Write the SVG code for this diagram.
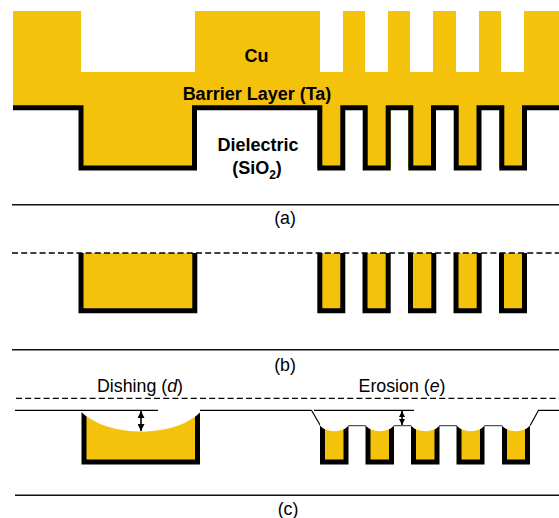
<svg xmlns="http://www.w3.org/2000/svg" width="559" height="518" viewBox="0 0 559 518">
<style>
.cu{fill:#f4c10b}
.wall{fill:none;stroke:#000;stroke-width:5;stroke-linejoin:miter}
.thin{fill:none;stroke:#000;stroke-width:1.2}
.shaft{fill:none;stroke:#000;stroke-width:1.6}
.grey{fill:none;stroke:#555;stroke-width:1.2}
.sep{fill:none;stroke:#111;stroke-width:1.4}
.dash{fill:none;stroke:#000;stroke-width:1.3;stroke-dasharray:6 3.2}
text{font-family:"Liberation Sans",Arial,sans-serif;fill:#000;text-anchor:middle}
.b{font-weight:700;font-size:18px}
.l{font-size:17.800px}
</style>
<defs>
<marker id="ah" viewBox="0 0 7 7" refX="7" refY="3.500" markerWidth="7" markerHeight="7" orient="auto-start-reverse" markerUnits="userSpaceOnUse"><path d="M0 0L7 3.500L0 7Z" fill="#000"/></marker>
<marker id="as" viewBox="0 0 6 6" refX="6" refY="3" markerWidth="6" markerHeight="6" orient="auto-start-reverse" markerUnits="userSpaceOnUse"><path d="M0 0L6 3L0 6Z" fill="#000"/></marker>
</defs>
<g id="panel-a">
<path class="cu" d="M13 11H81V72H195V11H320V72H343V11H365V72H388V11H410V72H433V11H456V72H479V11H501V72H524V11H559V108H527V168H499V108H481V168H454V108H436V168H408V108H391V168H363V108H345V168H317V108H197V168H79V108H13Z"/>
<path class="wall" d="M13 107.700H81V168H194.500V107.700H319.800V168H342.800V107.700H365.200V168H388.200V107.700H410.800V168H433.500V107.700H456.200V168H479V107.700H501.800V168H524.500V107.700H559"/>
<text class="b" x="256.500" y="62">Cu</text>
<text class="b" x="257" y="100">Barrier Layer (Ta)</text>
<text class="b" x="258" y="150.500">Dielectric</text>
<text class="b" x="257" y="174">(SiO<tspan font-size="12px" dy="5">2</tspan><tspan dy="-5">)</tspan></text>
<path class="sep" d="M12 204.700H559"/>
<text class="l" x="285" y="224">(a)</text>
</g>
<g id="panel-b">
<path class="cu" d="M81 253H195V310H81Z"/>
<path class="cu" d="M320 253H343V310H320ZM365 253H388V310H365ZM411 253H434V310H411ZM456 253H479V310H456ZM502 253H525V310H502Z"/>
<path class="wall" d="M81 253V310.800H194.800V253M319.800 253V310.800H342.800V253M365 253V310.800H388.200V253M410.500 253V310.800H433.800V253M456 253V310.800H479.200V253M501.500 253V310.800H524.500V253"/>
<path class="dash" d="M12 253H559"/>
<path class="sep" d="M12 349.700H559"/>
<text class="l" x="285" y="371">(b)</text>
</g>
<g id="panel-c">
<path class="dash" d="M16 398.300H559"/>
<text class="l" x="140" y="392">Dishing (<tspan font-style="italic">d</tspan>)</text>
<text class="l" x="402" y="392">Erosion (<tspan font-style="italic">e</tspan>)</text>
<g id="dishing">
<path d="M81.500 410H200V464.500H81.500Z"/>
<path class="cu" d="M86.500 415H195V459.500H86.500Z"/>
<path d="M80 409H201.500V411C188 425 165 431.500 141 431.500C117 431.500 95 425 80 411Z" fill="#fff"/>
<path class="thin" d="M15 410.300H158M200 410.300H311.500L320.500 425.700M530 425.700L538.500 410.300H559"/>
<path class="shaft" d="M141 411V431" marker-start="url(#ah)" marker-end="url(#ah)"/>
</g>
<g id="erosion">
<path class="grey" d="M348 425.700H366M393.500 425.700H411.500M439 425.700H457M484 425.700H502.500"/>
<path d="M320 425H348.500V464.500H320ZM365.500 425H394V464.500H365.500ZM411 425H439.500V464.500H411ZM456.500 425H484.500V464.500H456.500ZM502 425H530V464.500H502Z"/>
<path class="cu" d="M325 425H343.500V459.500H325ZM370.500 425H389V459.500H370.500ZM416 425H434.500V459.500H416ZM461.500 425H480V459.500H461.500ZM507 425H525V459.500H507Z"/>
<path fill="#fff" d="M320 424H348.500V425.500C343 433 326 433 320 425.500ZM365.500 424H394V425.500C388 433 372 433 365.500 425.500ZM411 424H439.500V425.500C434 433 417 433 411 425.500ZM456.500 424H484.500V425.500C479 433 463 433 456.500 425.500ZM502 424H530V425.500C524 433 508 433 502 425.500Z"/>
<path class="thin" d="M314 410.300H414"/>
<path class="shaft" d="M402 411V425" marker-start="url(#as)" marker-end="url(#as)"/>
</g>
<path class="sep" d="M15 495.300H559"/>
<text class="l" x="288" y="515">(c)</text>
</g>
</svg>
